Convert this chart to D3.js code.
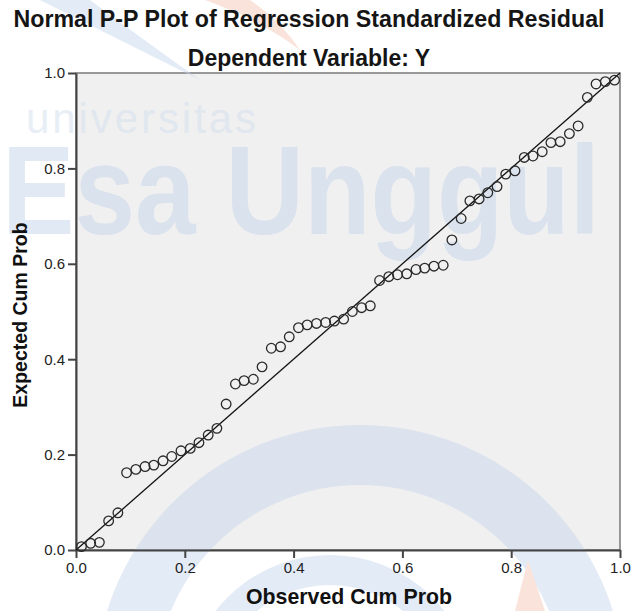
<!DOCTYPE html>
<meta charset="utf-8">

<style>
  body { margin: 0; background: white; }
  text { font-family: "Liberation Sans", Arial, sans-serif; }
  .axis path, .axis line { stroke: #444; stroke-width: 2px; }
  .axis text { font-size: 15px; fill: #222; }
</style>

<body>
  <script src="https://d3js.org/d3.v7.min.js"></script>

  <script type="application/javascript">
    var width = 633,
        height = 611,
        margin = {top: 73, right: 13, bottom: 61, left: 76};

    // observed cumulative probability (x) and expected cumulative probability (y)
    var observed = [0.010, 0.027, 0.043, 0.060, 0.077, 0.093, 0.110, 0.127, 0.143, 0.160,
                    0.176, 0.193, 0.210, 0.226, 0.243, 0.259, 0.276, 0.293, 0.309, 0.326,
                    0.342, 0.359, 0.376, 0.392, 0.409, 0.425, 0.442, 0.459, 0.475, 0.492,
                    0.508, 0.525, 0.541, 0.558, 0.575, 0.591, 0.608, 0.625, 0.641, 0.658,
                    0.675, 0.691, 0.708, 0.724, 0.741, 0.757, 0.774, 0.790, 0.807, 0.824,
                    0.840, 0.857, 0.873, 0.890, 0.907, 0.923, 0.940, 0.956, 0.973, 0.990];
    var expected = [0.007, 0.014, 0.016, 0.061, 0.078, 0.162, 0.169, 0.175, 0.178, 0.187,
                    0.196, 0.208, 0.213, 0.225, 0.241, 0.255, 0.306, 0.348, 0.355, 0.358,
                    0.384, 0.423, 0.426, 0.447, 0.466, 0.472, 0.475, 0.477, 0.480, 0.484,
                    0.500, 0.508, 0.512, 0.565, 0.573, 0.577, 0.579, 0.588, 0.591, 0.595,
                    0.597, 0.650, 0.695, 0.732, 0.736, 0.749, 0.762, 0.788, 0.795, 0.823,
                    0.826, 0.835, 0.854, 0.856, 0.873, 0.889, 0.949, 0.977, 0.982, 0.985];
    var ticks = [0, 0.2, 0.4, 0.6, 0.8, 1.0];

    var title = "Normal P-P Plot of Regression Standardized Residual",
        subtitle = "Dependent Variable: Y",
        xLabel = "Observed Cum Prob",
        yLabel = "Expected Cum Prob";

    var svg = d3.select("body").append("svg")
                .attr("width", width)
                .attr("height", height);

    var x = d3.scaleLinear().domain([0, 1]).range([margin.left, width - margin.right]);
    var y = d3.scaleLinear().domain([0, 1]).range([height - margin.bottom, margin.top]);

    // plot background
    svg.append("rect")
       .attr("x", x(0)).attr("y", y(1))
       .attr("width", x(1) - x(0)).attr("height", y(0) - y(1))
       .style("fill", "#f0f0f0")
       .style("stroke", "#7a7a7a")
       .style("stroke-width", 1.5);

    // faint watermark
    var wm = svg.append("g").style("opacity", 0.5);
    wm.append("circle").attr("cx", 360).attr("cy", 690).attr("r", 235)
      .style("fill", "none").style("stroke", "#c9d8ee").style("stroke-width", 60);
    wm.append("circle").attr("cx", 330).attr("cy", 700).attr("r", 130)
      .style("fill", "none").style("stroke", "#c9d8ee").style("stroke-width", 30);
    wm.append("path").attr("d", "M40,0 Q120,40 200,80 Q130,30 90,0 Z")
      .style("fill", "#c9d8ee");
    wm.append("path").attr("d", "M205,0 Q260,20 300,50 Q280,20 250,0 Z")
      .style("fill", "#f6c9b8");
    wm.append("path").attr("d", "M515,611 L528,560 L545,611 Z")
      .style("fill", "#f6c9b8");
    wm.append("text").attr("x", 26).attr("y", 133)
      .attr("textLength", 230).attr("lengthAdjust", "spacing")
      .style("font-size", "42px").style("fill", "#d3dfef")
      .text("universitas");
    var big = wm.append("text")
      .style("font-size", "126px").style("font-weight", "bold").style("fill", "#c5d5ec")
      .text("Esa Unggul");
    var sx = 598 / big.node().getComputedTextLength();
    big.attr("transform", "translate(2,234) scale(" + sx + ",1)");

    // axes
    svg.append("g")
       .attr("class", "axis")
       .attr("transform", "translate(0," + y(0) + ")")
       .call(d3.axisBottom(x).tickValues(ticks).tickFormat(d3.format(".1f")).tickSize(8).tickSizeOuter(0).tickPadding(4));

    svg.append("g")
       .attr("class", "axis")
       .attr("transform", "translate(" + x(0) + ",0)")
       .call(d3.axisLeft(y).tickValues(ticks).tickFormat(d3.format(".1f")).tickSize(8).tickSizeOuter(0).tickPadding(3));

    // reference diagonal
    svg.append("line")
       .attr("x1", x(0)).attr("y1", y(0))
       .attr("x2", x(1)).attr("y2", y(1))
       .style("stroke", "#111")
       .style("stroke-width", 1.3);

    svg.selectAll("circle.pt")
       .data(observed)
       .enter()
       .append("circle")
       .attr("class", "pt")
       .attr("cx", function(d) { return x(d); })
       .attr("cy", function(d, i) { return y(expected[i]); })
       .attr("r", 4.8)
       .style("fill", "none")
       .style("stroke", "#2a2a2a")
       .style("stroke-width", 1.3);

    // titles
    svg.append("text")
       .attr("x", 309).attr("y", 27)
       .attr("text-anchor", "middle")
       .style("font-size", "23.2px").style("font-weight", "bold").style("fill", "#151515")
       .text(title);

    svg.append("text")
       .attr("x", 309).attr("y", 66)
       .attr("text-anchor", "middle")
       .style("font-size", "23px").style("font-weight", "bold").style("fill", "#151515")
       .text(subtitle);

    svg.append("text")
       .attr("x", (x(0) + x(1)) / 2 + 1).attr("y", 604)
       .attr("text-anchor", "middle")
       .style("font-size", "21.3px").style("font-weight", "bold").style("fill", "#111")
       .text(xLabel);

    svg.append("text")
       .attr("transform", "translate(27," + 315 + ") rotate(-90)")
       .attr("text-anchor", "middle")
       .style("font-size", "19.5px").style("font-weight", "bold").style("fill", "#111")
       .text(yLabel);
  </script>
</body>
